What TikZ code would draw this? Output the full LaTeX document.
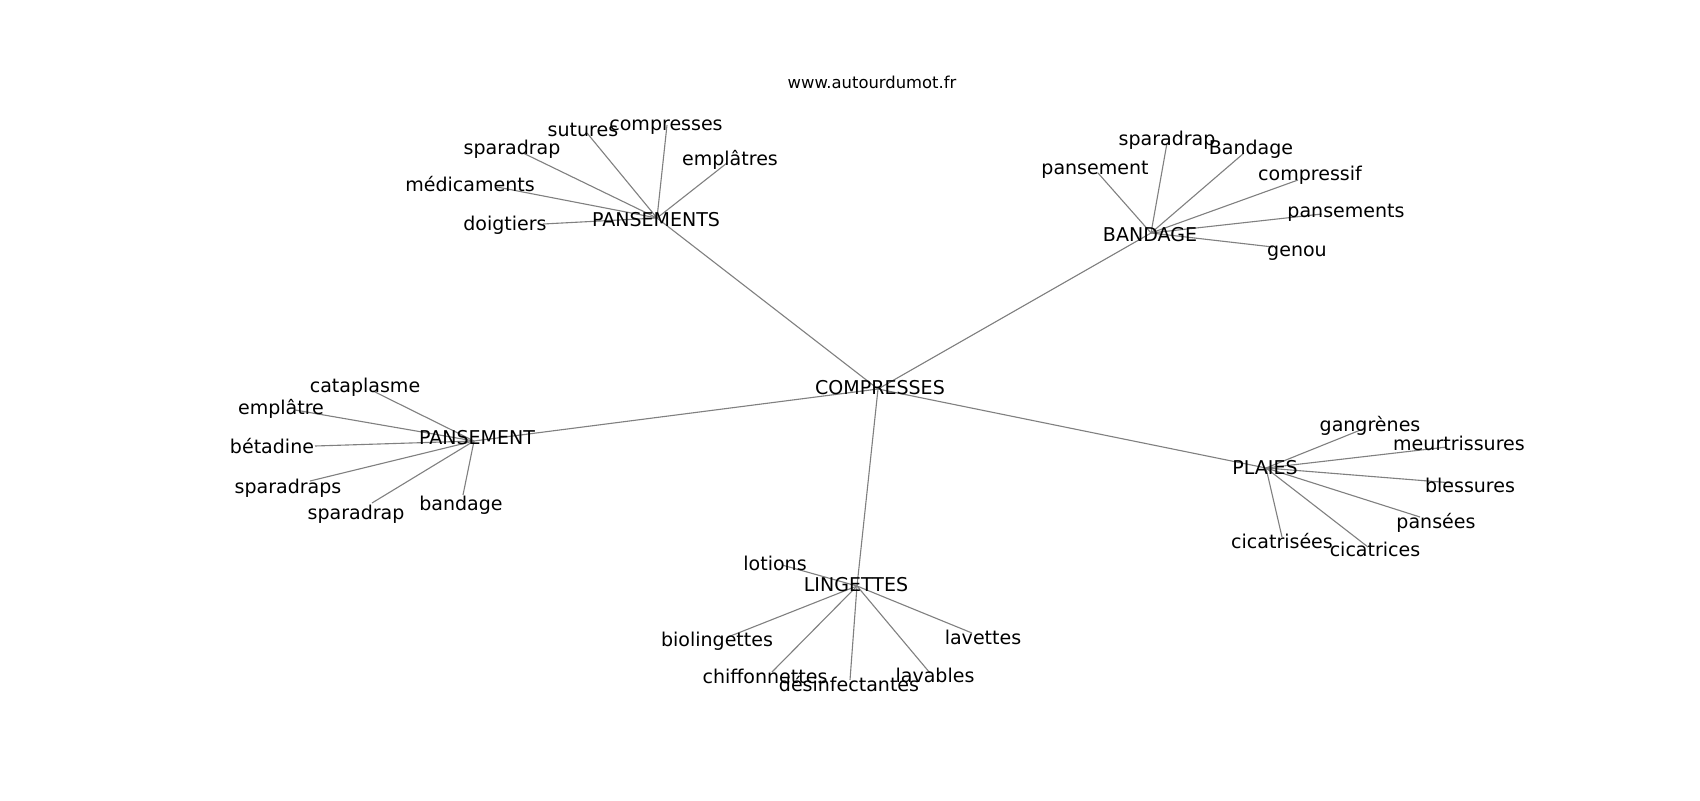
\documentclass[tikz,border=0pt]{standalone}
\usepackage{fontspec}
\setmainfont{DejaVu Sans}
\usetikzlibrary{backgrounds}
\tikzset{
  lbl/.style={inner sep=0pt, text height=0.74em, text depth=0.22em, yshift=-2.9pt, font=\fontsize{13.7}{16}\selectfont, text=black},
  ttl/.style={inner sep=0pt, text height=0.74em, text depth=0.22em, yshift=-1.5pt, font=\fontsize{11.8}{14}\selectfont, text=black},
  edge/.style={draw=gray, line width=0.8pt}
}
\begin{document}
\begin{tikzpicture}[x=0.72pt, y=-0.72pt]
\useasboundingbox (0,0) rectangle (1700,800);
\node[ttl] (title) at (872,83) {www.autourdumot.fr};
% hubs
\node[lbl] (C) at (880,387) {COMPRESSES};
\node[lbl] (P1) at (656,219) {PANSEMENTS};
\node[lbl] (B) at (1150,234) {BANDAGE};
\node[lbl] (P2) at (477,437) {PANSEMENT};
\node[lbl] (L) at (1265,467) {PLAIES};
\node[lbl] (G) at (856,584) {LINGETTES};
\coordinate (Cc) at (878,389);
\coordinate (P1c) at (657,218);
\coordinate (Bc) at (1151,233);
\coordinate (P2c) at (474,441);
\coordinate (Lc) at (1266,468);
\coordinate (Gc) at (857,586);
% PANSEMENTS leaves
\node[lbl] (a1) at (583,129) {sutures};      \coordinate (a1e) at (587,133);
\node[lbl] (a2) at (666,123) {compresses};   \coordinate (a2e) at (667,125);
\node[lbl] (a3) at (512,147) {sparadrap};    \coordinate (a3e) at (523,153);
\node[lbl] (a4) at (730,158) {emplâtres};    \coordinate (a4e) at (727,163);
\node[lbl] (a5) at (470,184) {médicaments};  \coordinate (a5e) at (497,187);
\node[lbl] (a6) at (505,223) {doigtiers};    \coordinate (a6e) at (543,224);
% BANDAGE leaves
\node[lbl] (b1) at (1167,138) {sparadrap};   \coordinate (b1e) at (1167,143);
\node[lbl] (b2) at (1251,147) {Bandage};     \coordinate (b2e) at (1244,153);
\node[lbl] (b3) at (1095,167) {pansement};   \coordinate (b3e) at (1098,173);
\node[lbl] (b4) at (1310,173) {compressif};  \coordinate (b4e) at (1298,180);
\node[lbl] (b5) at (1346,210) {pansements};  \coordinate (b5e) at (1322,214);
\node[lbl] (b6) at (1297,249) {genou};       \coordinate (b6e) at (1273,247);
% PANSEMENT leaves
\node[lbl] (c1) at (365,385) {cataplasme};   \coordinate (c1e) at (373,391);
\node[lbl] (c2) at (281,407) {emplâtre};     \coordinate (c2e) at (295,410);
\node[lbl] (c3) at (272,446) {bétadine};     \coordinate (c3e) at (315,446);
\node[lbl] (c4) at (288,486) {sparadraps};   \coordinate (c4e) at (310,481);
\node[lbl] (c5) at (356,512) {sparadrap};    \coordinate (c5e) at (372,503);
\node[lbl] (c6) at (461,503) {bandage};      \coordinate (c6e) at (463,495);
% PLAIES leaves
\node[lbl] (d1) at (1370,424) {gangrènes};     \coordinate (d1e) at (1363,429);
\node[lbl] (d2) at (1459,443) {meurtrissures}; \coordinate (d2e) at (1447,447);
\node[lbl] (d3) at (1470,485) {blessures};     \coordinate (d3e) at (1453,483);
\node[lbl] (d4) at (1436,521) {pansées};       \coordinate (d4e) at (1420,517);
\node[lbl] (d5) at (1282,541) {cicatrisées};   \coordinate (d5e) at (1282,537);
\node[lbl] (d6) at (1375,549) {cicatrices};    \coordinate (d6e) at (1368,547);
% LINGETTES leaves
\node[lbl] (e1) at (775,563) {lotions};        \coordinate (e1e) at (782,565);
\node[lbl] (e2) at (717,639) {biolingettes};   \coordinate (e2e) at (728,637);
\node[lbl] (e3) at (765,676) {chiffonnettes};  \coordinate (e3e) at (772,672);
\node[lbl] (e4) at (849,684) {désinfectantes}; \coordinate (e4e) at (850,680);
\node[lbl] (e5) at (935,675) {lavables};       \coordinate (e5e) at (930,673);
\node[lbl] (e6) at (983,637) {lavettes};       \coordinate (e6e) at (972,633);
\begin{scope}[on background layer]
\foreach \h in {P1c,Bc,P2c,Lc,Gc} \draw[edge] (Cc) -- (\h);
\foreach \l in {a1e,a2e,a3e,a4e,a5e,a6e} \draw[edge] (P1c) -- (\l);
\foreach \l in {b1e,b2e,b3e,b4e,b5e,b6e} \draw[edge] (Bc) -- (\l);
\foreach \l in {c1e,c2e,c3e,c4e,c5e,c6e} \draw[edge] (P2c) -- (\l);
\foreach \l in {d1e,d2e,d3e,d4e,d5e,d6e} \draw[edge] (Lc) -- (\l);
\foreach \l in {e1e,e2e,e3e,e4e,e5e,e6e} \draw[edge] (Gc) -- (\l);
\end{scope}
\end{tikzpicture}
\end{document}
